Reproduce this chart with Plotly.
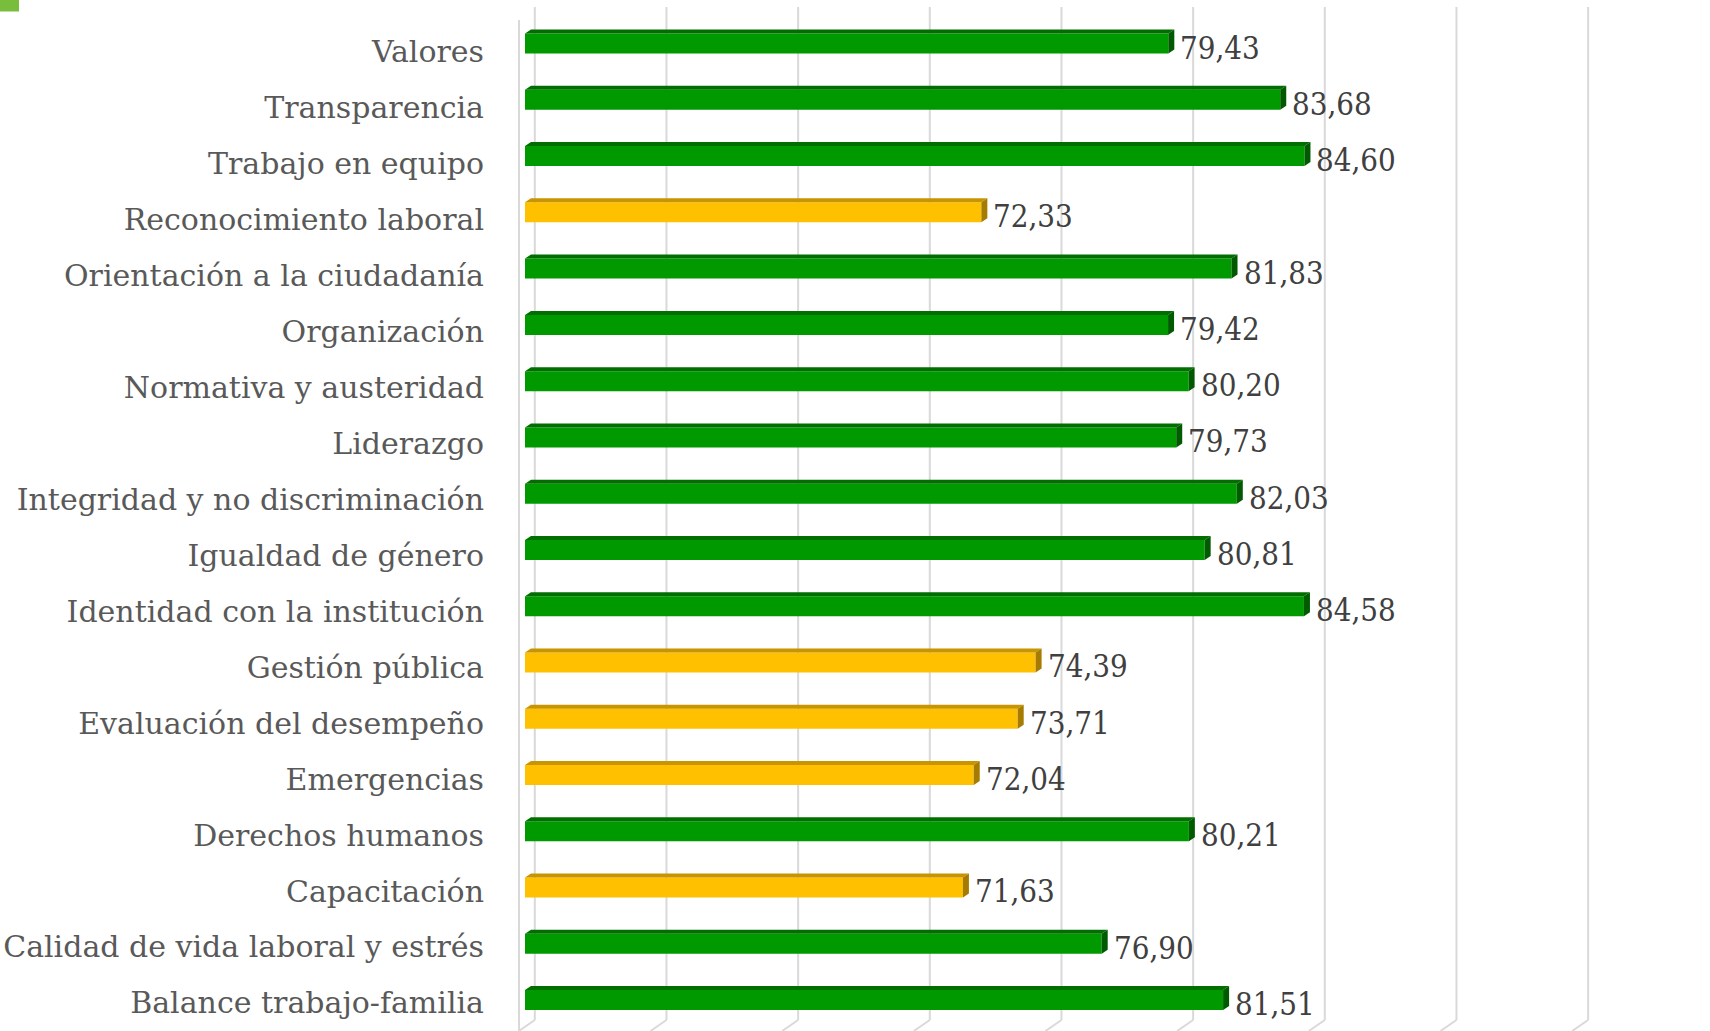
import plotly.graph_objects as go

# ---------------- data ----------------
categories = [
    "Valores", "Transparencia", "Trabajo en equipo", "Reconocimiento laboral",
    "Orientación a la ciudadanía", "Organización", "Normativa y austeridad",
    "Liderazgo", "Integridad y no discriminación", "Igualdad de género",
    "Identidad con la institución", "Gestión pública", "Evaluación del desempeño",
    "Emergencias", "Derechos humanos", "Capacitación",
    "Calidad de vida laboral y estrés", "Balance trabajo-familia",
]
values = [79.43, 83.68, 84.60, 72.33, 81.83, 79.42, 80.20, 79.73, 82.03, 80.81,
          84.58, 74.39, 73.71, 72.04, 80.21, 71.63, 76.90, 81.51]
grid_values = [55, 60, 65, 70, 75, 80, 85, 90, 95]
threshold = 75

# ---------------- geometry / style ----------------
W, H = 1710, 1031
ML, MR, MT, MB = 525, 0, 7, 0
XMIN, XMAX = 55, 100
PW, PH = W - ML - MR, H - MT - MB
PX_PER_X = PW / (XMAX - XMIN)
BAR_PX0, BAR_STEP = 1000.0, 56.26          # pixel center of bottom bar, step
Y0 = -(H - MB - BAR_PX0) / BAR_STEP
Y1 = (BAR_PX0 - MT) / BAR_STEP
PX_PER_Y = BAR_STEP

BAR_H = 20 / PX_PER_Y
DX = 6 / PX_PER_X
DY = 4 / PX_PER_Y

GREEN = dict(front="#009900", top="#006f00", side="#005a00")
YELLOW = dict(front="#FFC000", top="#C89400", side="#A67C00")
CAT_FONT = "DejaVu Serif"
LBL_FONT = "DejaVu Serif Condensed, DejaVu Serif"
n = len(categories)
ys = [n - 1 - k for k in range(n)]  # Valores on top


def pal(v):
    return YELLOW if v < threshold else GREEN


def xp(px):
    return (px - ML) / PW


def yp(py):
    return (H - MB - py) / PH


fig = go.Figure()

# front faces
fig.add_trace(go.Bar(
    x=values, y=ys, orientation="h", width=BAR_H,
    marker=dict(color=[pal(v)["front"] for v in values], line=dict(width=0)),
    hoverinfo="skip", showlegend=False,
))

# top and side faces as polygons
for p in (GREEN, YELLOW):
    tx, ty, sx, sy = [], [], [], []
    for v, y in zip(values, ys):
        if pal(v) is not p:
            continue
        yt = y + BAR_H / 2
        yb = y - BAR_H / 2
        tx += [XMIN, v, v + DX, XMIN + DX, XMIN, None]
        ty += [yt, yt, yt + DY, yt + DY, yt, None]
        sx += [v, v + DX, v + DX, v, v, None]
        sy += [yb, yb + DY, yt + DY, yt, yb, None]
    fig.add_trace(go.Scatter(x=tx, y=ty, mode="lines", fill="toself",
                             fillcolor=p["top"], line=dict(width=0),
                             hoverinfo="skip", showlegend=False))
    fig.add_trace(go.Scatter(x=sx, y=sy, mode="lines", fill="toself",
                             fillcolor=p["side"], line=dict(width=0),
                             hoverinfo="skip", showlegend=False))

# data labels
for v, y in zip(values, ys):
    fig.add_annotation(x=v, y=y, text=f"{v:.2f}".replace(".", ","),
                       showarrow=False, xanchor="left", yanchor="middle",
                       xshift=10, yshift=-4,
                       font=dict(family=LBL_FONT, size=31, color="#404040"))

# back-wall gridlines + floor diagonals
shapes = []
GRID = dict(color="#D9D9D9", width=2)
for g in grid_values:
    bx = ML + (g - XMIN) * PX_PER_X + 9.8
    shapes.append(dict(type="line", xref="paper", yref="paper",
                       x0=xp(bx), x1=xp(bx), y0=yp(MT), y1=yp(1020), line=GRID, layer="below"))
    shapes.append(dict(type="line", xref="paper", yref="paper",
                       x0=xp(bx), x1=xp(bx - 16), y0=yp(1020), y1=yp(1031), line=GRID, layer="below"))
# left wall front edge
shapes.append(dict(type="line", xref="paper", yref="paper",
                   x0=xp(519), x1=xp(519), y0=yp(20), y1=yp(1031), line=GRID, layer="below"))
# green corner mark
shapes.append(dict(type="rect", xref="paper", yref="paper",
                   x0=xp(0), x1=xp(19), y0=yp(0), y1=yp(11.5),
                   fillcolor="#78BE3C", line=dict(width=0)))

# tick positions (labels sit a little below bar centers)
tickvals = []
for k, y in enumerate(ys):
    tick_px = 51.3 + k * 55.98
    tickvals.append((BAR_PX0 - tick_px) / PX_PER_Y)

fig.update_layout(
    width=W, height=H,
    margin=dict(l=ML, r=MR, t=MT, b=MB, pad=0),
    paper_bgcolor="white", plot_bgcolor="white",
    shapes=shapes,
    xaxis=dict(range=[XMIN, XMAX], showgrid=False, zeroline=False,
               showticklabels=False, showline=False, fixedrange=True),
    yaxis=dict(range=[Y0, Y1], tickmode="array", tickvals=tickvals,
               ticktext=categories, showgrid=False, zeroline=False,
               showline=False, ticks="", automargin=False,
               ticklabelstandoff=40,
               tickfont=dict(family=CAT_FONT, size=30, color="#595959")),
    font=dict(family=CAT_FONT),
)

fig.write_html("out.html", config={"displayModeBar": False},
               post_script="document.body.style.margin='0';document.body.style.overflow='hidden';")
